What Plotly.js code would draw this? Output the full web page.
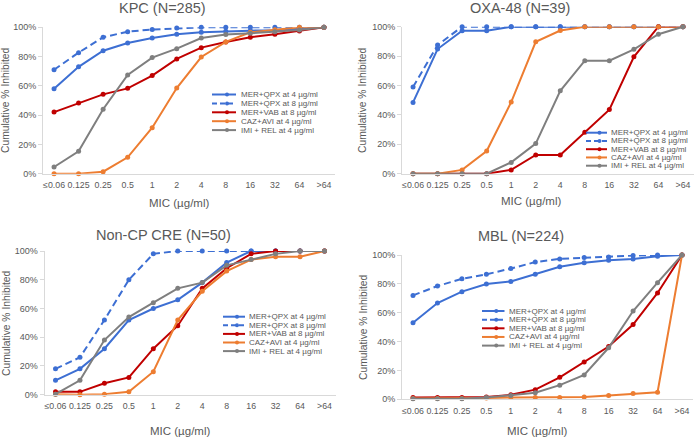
<!DOCTYPE html>
<html>
<head>
<meta charset="utf-8">
<script src="https://cdn.plot.ly/plotly-3.0.1.min.js"></script>
<style>html,body{margin:0;padding:0;background:#fff;}#chart{width:696px;height:441px;}</style>
</head>
<body>
<div id="chart"></div>
<script>
// ---- Data ----
const categories = ['≤0.06','0.125','0.25','0.5','1','2','4','8','16','32','64','>64'];
const seriesNames = ['MER+QPX at 4 µg/ml','MER+QPX at 8 µg/ml','MER+VAB at 8 µg/ml','CAZ+AVI at 4 µg/ml','IMI + REL at 4 µg/ml'];
const panelTitles = ['KPC (N=285)','OXA-48 (N=39)','Non-CP CRE (N=50)','MBL (N=224)'];
const yTickVals = [0,20,40,60,80,100];
const yTickText = ['0%','20%','40%','60%','80%','100%'];

// KPC
const kpcMerQpx4 = [58, 73, 84, 89.3, 92.7, 95.2, 96.6, 97.3, 97.7, 98, 99, 100];
const kpcMerQpx8 = [71, 82.7, 93.2, 97, 98.5, 99.5, 100, 100, 100, 100, 100, 100];
const kpcMerVab8 = [42.1, 48.3, 54.2, 58.3, 67, 78.4, 86.1, 90, 93.2, 95.2, 97.5, 100];
const kpcCazAvi4 = [0, 0, 1.4, 11.2, 31.4, 58.5, 79.7, 90, 96.6, 98.4, 100, 100];
const kpcImiRel4 = [4.6, 15.3, 44, 67.4, 79.3, 85.4, 92.7, 95, 95.9, 97, 98.2, 100];

// OXA-48
const oxaMerQpx4 = [48.5, 84.8, 97.3, 97.3, 100, 100, 100, 100, 100, 100, 100, 100];
const oxaMerQpx8 = [59, 87.5, 100, 100, 100, 100, 100, 100, 100, 100, 100, 100];
const oxaMerVab8 = [0, 0, 0, 0, 2.6, 12.8, 12.8, 28.2, 43.6, 79.5, 100, 100];
const oxaCazAvi4 = [0, 0, 2.6, 15.4, 48.7, 89.7, 97.4, 100, 100, 100, 100, 100];
const oxaImiRel4 = [0, 0, 0, 0, 7.7, 20.5, 56.4, 76.9, 76.9, 84.6, 94.9, 100];

// Non-CP CRE
const ncpMerQpx4 = [10, 18, 32, 52, 60, 66, 78, 92, 100, 100, 100, 100];
const ncpMerQpx8 = [18, 26, 52, 80, 98, 100, 100, 100, 100, 100, 100, 100];
const ncpMerVab8 = [2, 2, 8, 12, 32, 48, 74, 88, 98, 100, 100, 100];
const ncpCazAvi4 = [0.4, 0, 0.4, 2, 16, 52, 72, 86, 94, 96, 96, 100];
const ncpImiRel4 = [0.4, 10, 38, 54, 64, 74, 78, 90, 94, 98, 100, 100];

// MBL
const mblMerQpx4 = [53.1, 66.7, 74.6, 79.9, 81.7, 86.6, 91.9, 94.6, 96.4, 97.3, 99.1, 100];
const mblMerQpx8 = [72, 78.5, 83.5, 86.6, 90.6, 95.1, 97.3, 98.2, 98.7, 99.6, 100, 100];
const mblMerVab8 = [1.2, 1.2, 1.2, 1.6, 3.1, 6.7, 15.2, 25.9, 36.6, 51.8, 73.7, 100];
const mblCazAvi4 = [0.6, 0.6, 0.6, 0.9, 1.2, 1.2, 1.2, 1.6, 2.7, 4.0, 4.9, 100];
const mblImiRel4 = [0.4, 0.4, 0.4, 1.2, 2.7, 4.5, 9.8, 16.9, 35.7, 61.2, 80.8, 100];

const panelData = [
  [kpcMerQpx4, kpcMerQpx8, kpcMerVab8, kpcCazAvi4, kpcImiRel4],
  [oxaMerQpx4, oxaMerQpx8, oxaMerVab8, oxaCazAvi4, oxaImiRel4],
  [ncpMerQpx4, ncpMerQpx8, ncpMerVab8, ncpCazAvi4, ncpImiRel4],
  [mblMerQpx4, mblMerQpx8, mblMerVab8, mblCazAvi4, mblImiRel4]
];

// ---- Styles ----
const colors = ['#3D6FD3','#3D6FD3','#C00000','#ED7D31','#7F7F7F'];
const dashes = ['solid','7px,4px','solid','solid','solid'];
const drawOrder = [0,1,2,3,4]; // first series at bottom, last on top

const W = 696, H = 441;
const px = x => x / W;
const py = y => 1 - y / H;

// Panel geometry in pixels: [left, right, top(100%), bottom(0%)]
const geom = [
  [43, 335, 27.3, 173.7],
  [402, 694, 26.7, 173.7],
  [44.5, 335.5, 251, 394.7],
  [402, 693, 255, 399.3]
];
const titlePos = [[162, 8.5], [520, 7.5], [163, 235], [521, 236]];
const xTitlePos = [[179, 203], [531, 201], [180, 431], [537, 431]];
const yTitlePos = [[6, 100], [363, 100], [6, 323], [363, 327]];
// legend: [lineX0, lineX1, textX, firstRowY, rowGap]
const legendPos = [
  [212, 236, 240, 94.5, 8.9],
  [586, 607, 610, 132.7, 8.25],
  [223, 245, 248, 316.7, 8.6],
  [482, 504.5, 508, 311, 8.65]
];

const grey = '#595959';
const font = 'Liberation Sans, Arial, sans-serif';

const traces = [];
const layout = {
  width: W, height: H,
  margin: {l:0, r:0, t:0, b:0},
  paper_bgcolor: '#fff', plot_bgcolor: '#fff',
  showlegend: false,
  font: {family: font, color: grey},
  annotations: [], shapes: []
};

for (let p = 0; p < 4; p++) {
  const sfx = p === 0 ? '' : String(p + 1);
  const [l, r, t, b] = geom[p];
  layout['xaxis' + sfx] = {
    domain: [px(l), px(r)], anchor: 'y' + sfx,
    type: 'category', categoryorder: 'array', categoryarray: categories,
    range: [-0.45, 11.45], showgrid: false, zeroline: false,
    showline: true, linecolor: '#D9D9D9', linewidth: 1,
    ticks: 'outside', ticklen: 3, tickcolor: 'rgba(0,0,0,0)', tickangle: 0,
    tickfont: {size: 8.8, color: grey, family: font}, fixedrange: true
  };
  layout['yaxis' + sfx] = {
    domain: [py(b), py(t)], anchor: 'x' + sfx,
    range: [0, 100], tickmode: 'array', tickvals: yTickVals, ticktext: yTickText,
    showgrid: false, zeroline: false,
    showline: true, linecolor: '#D9D9D9', linewidth: 1,
    ticks: 'outside', ticklen: 4, tickcolor: '#D9D9D9',
    tickfont: {size: 9, color: grey, family: font}, fixedrange: true
  };
  for (const s of drawOrder) {
    traces.push({
      type: 'scatter', mode: 'lines+markers',
      x: categories, y: panelData[p][s], name: seriesNames[s],
      xaxis: 'x' + sfx, yaxis: 'y' + sfx, cliponaxis: false,
      line: {color: colors[s], width: 2, dash: dashes[s]},
      marker: {color: colors[s], size: 5}
    });
  }
  layout.annotations.push({
    text: panelTitles[p], xref: 'paper', yref: 'paper',
    x: px(titlePos[p][0]), y: py(titlePos[p][1]), xanchor: 'center', yanchor: 'middle',
    showarrow: false, font: {size: 14.5, color: grey, family: font}
  });
  layout.annotations.push({
    text: 'MIC (µg/ml)', xref: 'paper', yref: 'paper',
    x: px(xTitlePos[p][0]), y: py(xTitlePos[p][1]), xanchor: 'center', yanchor: 'middle',
    showarrow: false, font: {size: 11.5, color: grey, family: font}
  });
  layout.annotations.push({
    text: 'Cumulative % Inhibited', xref: 'paper', yref: 'paper', textangle: -90,
    x: px(yTitlePos[p][0]), y: py(yTitlePos[p][1]), xanchor: 'center', yanchor: 'middle',
    showarrow: false, font: {size: 10.3, color: grey, family: font}
  });
  const [lx0, lx1, tx, ry, gap] = legendPos[p];
  for (let s = 0; s < 5; s++) {
    const yy = ry + s * gap;
    layout.shapes.push({
      type: 'line', xref: 'paper', yref: 'paper',
      x0: px(lx0), x1: px(lx1), y0: py(yy), y1: py(yy),
      line: {color: colors[s], width: 2, dash: s === 1 ? '5px,3px' : 'solid'}
    });
    const mx = (lx0 + lx1) / 2 + 3;
    layout.shapes.push({
      type: 'circle', xref: 'paper', yref: 'paper',
      x0: px(mx - 2), x1: px(mx + 2), y0: py(yy + 2), y1: py(yy - 2),
      fillcolor: colors[s], line: {color: colors[s], width: 0}
    });
    layout.annotations.push({
      text: seriesNames[s], xref: 'paper', yref: 'paper',
      x: px(tx), y: py(yy), xanchor: 'left', yanchor: 'middle',
      showarrow: false, borderpad: 0, font: {size: 8, color: grey, family: font}
    });
  }
}

Plotly.newPlot('chart', traces, layout, {staticPlot: true, displayModeBar: false});
</script>
</body>
</html>
